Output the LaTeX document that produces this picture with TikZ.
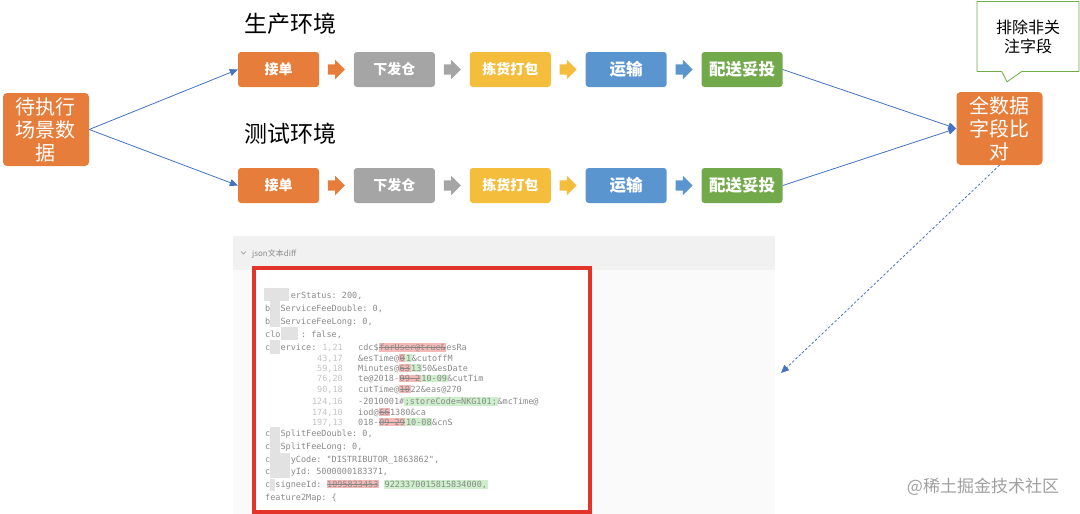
\documentclass[tikz,border=0pt]{standalone}
\usepackage{fontspec}
\setmainfont{Noto Sans CJK SC}
\setmonofont{DejaVu Sans Mono}
\usetikzlibrary{shapes.arrows,shapes.callouts,arrows.meta,positioning}

\definecolor{stepOrange}{HTML}{E67D3A}
\definecolor{stepGray}{HTML}{A5A5A5}
\definecolor{stepYellow}{HTML}{F5BD3C}
\definecolor{stepBlue}{HTML}{5B95D0}
\definecolor{stepGreen}{HTML}{72A94A}
\definecolor{linkBlue}{HTML}{4472C4}
\definecolor{noteGreen}{HTML}{70AD47}
\definecolor{frameRed}{HTML}{E3342A}
\definecolor{codeGray}{HTML}{8A8A8A}
\definecolor{lineGray}{HTML}{C4C4C4}
\definecolor{delBg}{HTML}{F4B9B6}
\definecolor{insBg}{HTML}{CDEFCB}
\definecolor{headBg}{HTML}{F1F1F1}
\definecolor{panelBg}{HTML}{FAFAFA}
\definecolor{maskGray}{HTML}{E2E2E2}

\newsavebox{\segbox}
\newcommand{\delseg}[1]{{\setlength{\fboxsep}{0.6pt}\sbox{\segbox}{#1}%
  \colorbox{delBg}{\rlap{\rule[2.6pt]{\wd\segbox}{0.6pt}}\usebox{\segbox}}}}
\newcommand{\insseg}[1]{{\setlength{\fboxsep}{0.6pt}\colorbox{insBg}{#1}}}

\tikzset{
  bigbox/.style  ={rectangle,rounded corners=4pt,fill=stepOrange,text=white,
                   minimum width=86pt,minimum height=73pt,align=center,
                   font=\fontsize{20}{23}\selectfont},
  stepbox/.style ={rectangle,rounded corners=3pt,text=white,inner sep=0pt,
                   minimum width=81pt,minimum height=35pt,
                   font=\bfseries\fontsize{14}{16}\selectfont},
  bigstep/.style ={stepbox,font=\bfseries\fontsize{16.5}{18}\selectfont},
  flowarr/.style ={single arrow,inner xsep=0pt,inner ysep=5pt,minimum height=17pt,
                   minimum width=19pt,single arrow head extend=4.5pt},
  envtitle/.style={anchor=west,inner sep=0pt,font=\fontsize{23}{26}\selectfont},
  link/.style    ={-{Triangle[length=8pt,width=7pt]},linkBlue,line width=0.8pt},
  codeline/.style={anchor=base west,inner sep=0pt,text=codeGray,
                   font=\ttfamily\fontsize{8.5}{10}\selectfont},
  lineno/.style  ={anchor=base east,inner sep=0pt,text=lineGray,
                   font=\ttfamily\fontsize{8.5}{10}\selectfont},
  mask/.style    ={fill=maskGray}
}

\begin{document}
\begin{tikzpicture}[x=1pt,y=-1pt,node distance=8.5pt]
  \useasboundingbox (0,0) rectangle (1080,514);

  % Nodes
  \node (src)   [bigbox] at (46,129.5) {待执行\\场景数\\据};
  \node (prodtitle) [envtitle] at (244,24)  {生产环境};
  \node (testtitle) [envtitle] at (244,134) {测试环境};

  % production chain
  \node (jd1) [stepbox, fill=stepOrange] at (278.5,69.5) {接单};
  \node (a11) [flowarr, fill=stepOrange, right=of jd1] {};
  \node (xf1) [stepbox, fill=stepGray, right=of a11]     {下发仓};
  \node (a12) [flowarr, fill=stepGray, right=of xf1] {};
  \node (jh1) [stepbox, fill=stepYellow, right=of a12]   {拣货打包};
  \node (a13) [flowarr, fill=stepYellow, right=of jh1] {};
  \node (ys1) [bigstep, fill=stepBlue, right=of a13]     {运输};
  \node (a14) [flowarr, fill=stepBlue, right=of ys1] {};
  \node (ps1) [bigstep, fill=stepGreen, right=of a14]    {配送妥投};

  % test chain
  \node (jd2) [stepbox, fill=stepOrange] at (278.5,185.5) {接单};
  \node (a21) [flowarr, fill=stepOrange, right=of jd2] {};
  \node (xf2) [stepbox, fill=stepGray, right=of a21]     {下发仓};
  \node (a22) [flowarr, fill=stepGray, right=of xf2] {};
  \node (jh2) [stepbox, fill=stepYellow, right=of a22]   {拣货打包};
  \node (a23) [flowarr, fill=stepYellow, right=of jh2] {};
  \node (ys2) [bigstep, fill=stepBlue, right=of a23]     {运输};
  \node (a24) [flowarr, fill=stepBlue, right=of ys2] {};
  \node (ps2) [bigstep, fill=stepGreen, right=of a24]    {配送妥投};

  \node (cmp)  [bigbox] at (999.5,128.5) {全数据\\字段比\\对};
  \node (note) [rectangle callout, draw=noteGreen, fill=white, line width=0.8pt,
                minimum width=102pt, minimum height=70pt, align=center,
                font=\fontsize{16}{19}\selectfont, callout pointer width=20pt,
                callout absolute pointer={([xshift=7.5pt,yshift=10pt]cmp.north)}]
                at (1028,36.5) {排除非关\\注字段};

  % Arrows
  \draw [link] (src.east) -- (jd1.west);
  \draw [link] (src.east) -- (jd2.west);
  \draw [link] (ps1.east) -- (cmp.west);
  \draw [link] (ps2.east) -- (cmp.west);
  \coordinate (diffin) at (781,373);
  \draw [link, dash pattern=on 2.5pt off 2pt] (cmp.south) -- (diffin);

  % diff screenshot
  \fill [panelBg] (233,236) rectangle (775,514);
  \fill [headBg]  (233,236) rectangle (775,270);
  \draw [codeGray, line width=0.7pt] (241,251.5) -- (243.5,254) -- (246,251.5);
  \node (difftitle) [anchor=west, inner sep=0pt, text=codeGray,
                     font=\fontsize{8}{9}\selectfont] at (252,254) {json文本diff};
  \draw [frameRed, line width=4pt, fill=white] (254,268) rectangle (590,512);

  \node (c1)  [codeline] at (265,298) {~~~~~erStatus: 200,};
  \node (c2)  [codeline] at (265,311) {b~~ServiceFeeDouble: 0,};
  \node (c3)  [codeline] at (265,324) {b~~ServiceFeeLong: 0,};
  \node (c4)  [codeline] at (265,337) {clo~~~~: false,};
  \node (c5)  [codeline] at (265,350) {c~~ervice:};
  \node (n5)  [lineno] at (343,350) {1,21};
  \node (d5)  [codeline] at (358,350) {cdc\$\delseg{forUser@true\&}esRa};
  \node (n6)  [lineno] at (343,361) {43,17};
  \node (d6)  [codeline] at (358,361) {\&esTime@\delseg{0}\insseg{1}\&cutoffM};
  \node (n7)  [lineno] at (343,371) {59,18};
  \node (d7)  [codeline] at (358,371) {Minutes@\delseg{63}\insseg{13}50\&esDate};
  \node (n8)  [lineno] at (343,381.5) {76,20};
  \node (d8)  [codeline] at (358,381.5) {te@2018-\delseg{09-2}\insseg{10-09}\&cutTim};
  \node (n9)  [lineno] at (343,392) {90,18};
  \node (d9)  [codeline] at (358,392) {cutTime@\delseg{10}22\&eas@270};
  \node (n10) [lineno] at (343,404) {124,16};
  \node (d10) [codeline] at (358,404) {-2010001\#\insseg{;storeCode=NKG101;}\&mcTime@};
  \node (n11) [lineno] at (343,415) {174,10};
  \node (d11) [codeline] at (358,415) {iod@\delseg{66}1380\&ca};
  \node (n12) [lineno] at (343,425) {197,13};
  \node (d12) [codeline] at (358,425) {018-\delseg{09-29}\insseg{10-08}\&cnS};
  \node (c13) [codeline] at (265,436) {c~~SplitFeeDouble: 0,};
  \node (c14) [codeline] at (265,449) {c~~SplitFeeLong: 0,};
  \node (c15) [codeline] at (265,462) {c~~~~yCode: "DISTRIBUTOR\_1863862",};
  \node (c16) [codeline] at (265,474) {c~~~~yId: 5000000183371,};
  \node (c17) [codeline] at (265,487) {c~signeeId: \delseg{1095833453} \insseg{9223370015815834000,}};
  \node (c18) [codeline] at (265,500) {feature2Map: \{};

  % blurred-out parts
  \fill [mask] (264,288) rectangle (289,301);
  \fill [mask] (270,301) rectangle (280,327);
  \fill [mask] (281,327) rectangle (298,340);
  \fill [mask] (270,340) rectangle (280,354);
  \fill [mask] (270,427) rectangle (280,453);
  \fill [mask] (270,453) rectangle (290,478);
  \fill [mask] (270,479) rectangle (275,491);

  \node (mark) [text=gray!75, font=\fontsize{17}{19}\selectfont] at (983,487) {@稀土掘金技术社区};
\end{tikzpicture}
\end{document}
